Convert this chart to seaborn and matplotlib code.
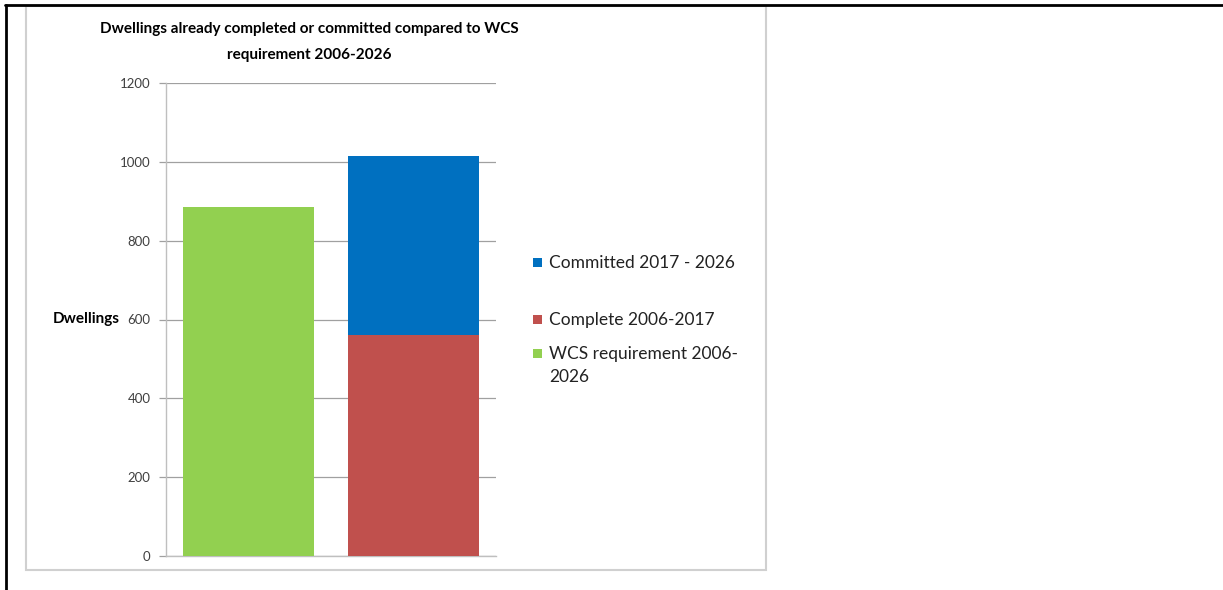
import matplotlib
matplotlib.use("Agg")
import matplotlib.pyplot as plt
import seaborn as sns
import pandas as pd
from matplotlib.patches import Rectangle
from matplotlib.lines import Line2D

# ---- data ----
categories = ["WCS requirement", "Completed and committed"]
wcs_requirement = [885, 0]
complete_2006_2017 = [0, 560]
committed_2017_2026 = [0, 455]
legend_labels = ["Committed 2017 - 2026", "Complete 2006-2017", "WCS requirement 2006-\n2026"]
y_ticks = [0, 200, 400, 600, 800, 1000, 1200]
title = "Dwellings already completed or committed compared to WCS\nrequirement 2006-2026"
y_label = "Dwellings"

GREEN = "#92D050"
RED = "#C0504D"
BLUE = "#0070C0"
legend_colors = [BLUE, RED, GREEN]

sns.set_theme(style="white")
plt.rcParams["font.family"] = ["Lato", "DejaVu Sans"]

fig = plt.figure(figsize=(12.23, 5.90), dpi=100)
W, H = 1223, 590
ax = fig.add_axes([166 / W, 1 - 556 / H, (496 - 166) / W, (556 - 83) / H])

totals = [w + c + m for w, c, m in zip(wcs_requirement, complete_2006_2017, committed_2017_2026)]
df_tot = pd.DataFrame({"cat": categories, "val": totals})
df_red = pd.DataFrame({"cat": categories, "val": complete_2006_2017})

sns.barplot(data=df_tot, x="cat", y="val", hue="cat", order=categories,
            palette=[GREEN, BLUE], width=0.79, legend=False, ax=ax,
            linewidth=0, zorder=3, saturation=1)
sns.barplot(data=df_red, x="cat", y="val", order=categories, color=RED,
            width=0.79, ax=ax, linewidth=0, zorder=4, saturation=1)

ax.set_xlim(-0.5, 1.5)
ax.set_ylim(0, 1200)
ax.set_yticks(y_ticks)
ax.set_yticklabels([str(t) for t in y_ticks])
ax.set_xticks([])
ax.set_xlabel("")
ax.yaxis.grid(True, color="#a0a0a0", linewidth=0.9, zorder=0)
ax.set_axisbelow(True)
for s in ["top", "right"]:
    ax.spines[s].set_visible(False)
for s in ["left", "bottom"]:
    ax.spines[s].set_color("#bfbfbf")
    ax.spines[s].set_linewidth(1.0)
ax.tick_params(axis="y", left=True, length=5, width=0.9, color="#a0a0a0",
               labelsize=9.5, labelcolor="#404040", pad=6)

ax.set_ylabel(y_label, rotation=0, fontsize=11, fontweight="bold", color="black")
ax.yaxis.set_label_coords((86 - 166) / (496 - 166), (556 - 319) / (556 - 83))
ax.yaxis.label.set_verticalalignment("center")
ax.yaxis.label.set_horizontalalignment("center")

fig.text(309 / W, 1 - 22 / H, title, ha="center", va="top", fontsize=11,
         fontweight="bold", color="black", linespacing=2.1)

# legend (Excel-style: swatch aligned with first text line)
legend_y = [262, 319, 353]
for lab, col, yy in zip(legend_labels, legend_colors, legend_y):
    fig.add_artist(Rectangle((533 / W, 1 - (yy + 4.5) / H), 9 / W, 9 / H,
                             transform=fig.transFigure, facecolor=col,
                             edgecolor="none"))
    fig.text(549 / W, 1 - (yy - 7) / H, lab, ha="left", va="top",
             fontsize=12.5, color="#222222", linespacing=1.5)

# chart frame (light grey) and outer black border
fig.add_artist(Rectangle((26 / W, 1 - 570 / H), (766 - 26) / W, (570 - 6) / H,
                         transform=fig.transFigure, fill=False,
                         edgecolor="#d0d0d0", linewidth=1.5))
fig.add_artist(Line2D([5 / W, 1], [1 - 5 / H, 1 - 5 / H], transform=fig.transFigure,
                      color="black", linewidth=2))
fig.add_artist(Line2D([6 / W, 6 / W], [0, 1 - 5 / H], transform=fig.transFigure,
                      color="black", linewidth=2))

fig.savefig("out.png", dpi=100, facecolor="white")
